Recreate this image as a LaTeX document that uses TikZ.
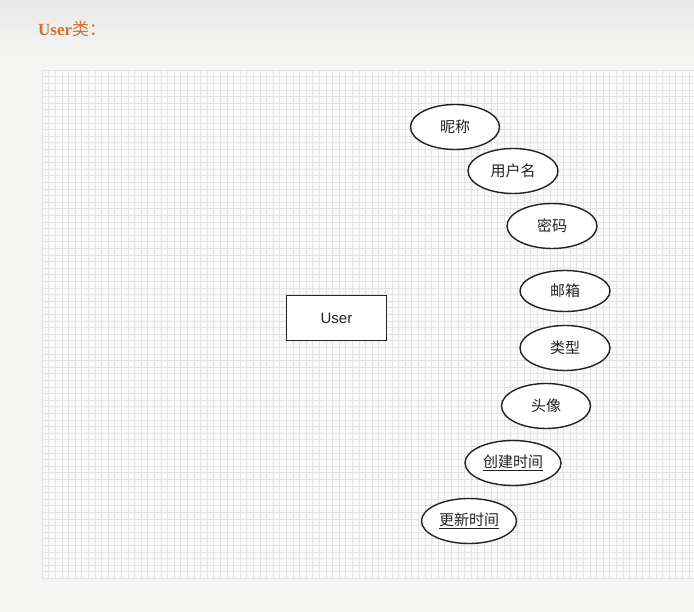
\documentclass[tikz,border=0pt]{standalone}
\usepackage{fontspec}
\setmainfont{Liberation Serif}
\setsansfont{Liberation Sans}
\newfontfamily\cjk{Noto Sans CJK SC}
\usetikzlibrary{shapes.geometric}
\definecolor{titleorange}{HTML}{D5702A}
\definecolor{gridline}{HTML}{E3E3E3}
\definecolor{pagebg}{HTML}{F5F5F3}
\definecolor{ink}{HTML}{222222}
\tikzset{
  attr/.style={draw=ink, line width=1.4pt, ellipse, fill=white,
    minimum width=90pt, minimum height=45pt, inner sep=0pt,
    font=\cjk\fontsize{15}{17}\selectfont, text=ink},
  entity/.style={draw=ink, line width=1.4pt, rectangle, fill=white,
    minimum width=100pt, minimum height=45pt, inner sep=0pt,
    font=\sffamily\fontsize{15}{17}\selectfont, text=ink},
}
\begin{document}
\begin{tikzpicture}[x=1pt,y=-1pt]
\useasboundingbox (0,0) rectangle (694,612);
% page background
\fill[pagebg] (0,0) rectangle (694,612);
\shade[top color=black!9, bottom color=pagebg] (0,0) rectangle (694,60);
% grid canvas
\fill[white!98!black] (42,70) rectangle (694,578);
\foreach \i in {0,...,98} {
  \draw[gridline, line width=0.5pt] ({42+6.6*\i},70) -- ({42+6.6*\i},578);
}
\foreach \j in {0,...,77} {
  \draw[gridline, line width=0.5pt] (42,{70+6.6*\j}) -- (694,{70+6.6*\j});
}
% title
\node[anchor=west, text=titleorange, inner sep=0pt,
  font=\fontsize{17}{20}\selectfont] (title) at (38,29)
  {\textbf{User}{\cjk 类：}};
% entity
\node[entity] (user) at (336.5,318) {User};
% attributes
\node[attr, minimum width=89pt] (nick) at (455,127) {昵称};
\node[attr] (uname) at (513,171) {用户名};
\node[attr] (pwd) at (552,226) {密码};
\node[attr, minimum height=41pt] (mail) at (565,291) {邮箱};
\node[attr] (type) at (565,348) {类型};
\node[attr, minimum width=89pt] (avatar) at (546,406) {头像};
\node[attr, minimum width=96pt] (ctime) at (513,463) {\underline{创建时间}};
\node[attr, minimum width=95pt] (utime) at (469,521) {\underline{更新时间}};
\end{tikzpicture}
\end{document}
